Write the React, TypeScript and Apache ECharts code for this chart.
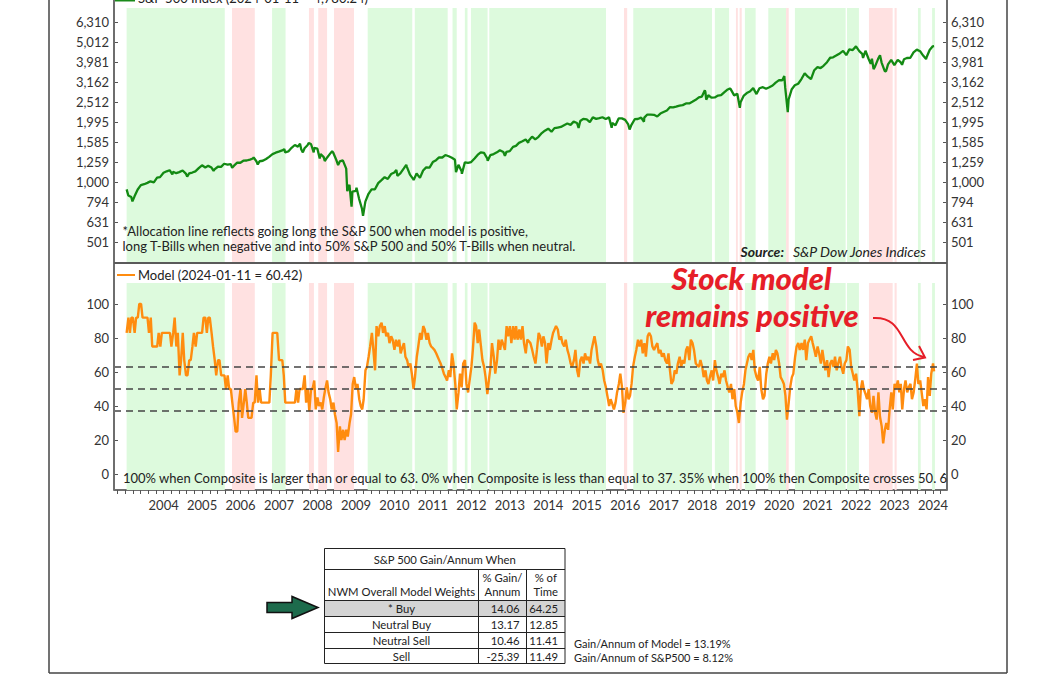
import React, { useEffect, useRef } from "react";
import * as echarts from "echarts";

// ---------------- DATA ----------------
// S&P 500 index level (date, value)
const spData: [string, number][] = [
  ["2003-01-15", 918], ["2003-01-31", 856], ["2003-02-28", 841], ["2003-03-11", 800], ["2003-03-31", 848], ["2003-04-30", 917], ["2003-05-30", 964], ["2003-06-30", 975], ["2003-07-31", 990], ["2003-08-29", 1008], ["2003-09-30", 996], ["2003-10-31", 1051], ["2003-11-28", 1058], ["2003-12-31", 1112],
  ["2004-01-30", 1131], ["2004-02-27", 1145], ["2004-03-24", 1091], ["2004-03-31", 1126], ["2004-04-30", 1107], ["2004-05-28", 1121], ["2004-06-30", 1141], ["2004-07-30", 1102], ["2004-08-12", 1064], ["2004-08-31", 1104], ["2004-09-30", 1115], ["2004-10-29", 1130], ["2004-11-30", 1174], ["2004-12-31", 1212],
  ["2005-01-31", 1181], ["2005-02-28", 1204], ["2005-03-31", 1181], ["2005-04-20", 1138], ["2005-04-29", 1157], ["2005-05-31", 1192], ["2005-06-30", 1191], ["2005-07-29", 1234], ["2005-08-31", 1220], ["2005-09-30", 1229], ["2005-10-13", 1177], ["2005-10-31", 1207], ["2005-11-30", 1249], ["2005-12-30", 1248],
  ["2006-01-31", 1280], ["2006-02-28", 1281], ["2006-03-31", 1295], ["2006-04-28", 1311], ["2006-05-05", 1326], ["2006-05-31", 1270], ["2006-06-13", 1223], ["2006-06-30", 1270], ["2006-07-31", 1277], ["2006-08-31", 1304], ["2006-09-29", 1336], ["2006-10-31", 1378], ["2006-11-30", 1401], ["2006-12-29", 1418],
  ["2007-01-31", 1438], ["2007-02-20", 1460], ["2007-02-28", 1407], ["2007-03-30", 1421], ["2007-04-30", 1482], ["2007-05-31", 1531], ["2007-06-29", 1503], ["2007-07-19", 1553], ["2007-07-31", 1455], ["2007-08-15", 1406], ["2007-08-31", 1474], ["2007-09-28", 1527], ["2007-10-09", 1565], ["2007-10-31", 1549], ["2007-11-26", 1407], ["2007-11-30", 1481], ["2007-12-31", 1468],
  ["2008-01-22", 1310], ["2008-01-31", 1379], ["2008-02-29", 1331], ["2008-03-10", 1273], ["2008-03-31", 1323], ["2008-04-30", 1386], ["2008-05-19", 1426], ["2008-05-30", 1400], ["2008-06-30", 1280], ["2008-07-15", 1215], ["2008-07-31", 1267], ["2008-08-29", 1283], ["2008-09-30", 1166], ["2008-10-10", 899], ["2008-10-31", 969], ["2008-11-20", 752], ["2008-11-28", 896], ["2008-12-31", 903],
  ["2009-01-06", 935], ["2009-01-30", 826], ["2009-02-27", 735], ["2009-03-09", 677], ["2009-03-31", 798], ["2009-04-30", 873], ["2009-05-29", 919], ["2009-06-30", 919], ["2009-07-31", 987], ["2009-08-31", 1021], ["2009-09-30", 1057], ["2009-10-30", 1036], ["2009-11-30", 1096], ["2009-12-31", 1115],
  ["2010-01-19", 1150], ["2010-01-29", 1074], ["2010-02-26", 1104], ["2010-03-31", 1169], ["2010-04-23", 1217], ["2010-04-30", 1187], ["2010-05-28", 1089], ["2010-06-30", 1031], ["2010-07-02", 1022], ["2010-07-30", 1102], ["2010-08-31", 1049], ["2010-09-30", 1141], ["2010-10-29", 1183], ["2010-11-30", 1181], ["2010-12-31", 1258],
  ["2011-01-31", 1286], ["2011-02-28", 1327], ["2011-03-31", 1326], ["2011-04-29", 1364], ["2011-05-31", 1345], ["2011-06-30", 1321], ["2011-07-29", 1292], ["2011-08-08", 1119], ["2011-08-31", 1219], ["2011-09-30", 1131], ["2011-10-03", 1099], ["2011-10-31", 1253], ["2011-11-30", 1247], ["2011-12-30", 1258],
  ["2012-01-31", 1312], ["2012-02-29", 1366], ["2012-03-30", 1408], ["2012-04-30", 1398], ["2012-05-31", 1310], ["2012-06-04", 1278], ["2012-06-29", 1362], ["2012-07-31", 1379], ["2012-08-31", 1407], ["2012-09-28", 1441], ["2012-10-31", 1412], ["2012-11-15", 1353], ["2012-11-30", 1416], ["2012-12-31", 1426],
  ["2013-01-31", 1498], ["2013-02-28", 1515], ["2013-03-28", 1569], ["2013-04-30", 1598], ["2013-05-31", 1631], ["2013-06-24", 1573], ["2013-06-28", 1606], ["2013-07-31", 1686], ["2013-08-30", 1633], ["2013-09-30", 1682], ["2013-10-31", 1757], ["2013-11-29", 1806], ["2013-12-31", 1848],
  ["2014-01-31", 1783], ["2014-02-28", 1859], ["2014-03-31", 1872], ["2014-04-30", 1884], ["2014-05-30", 1924], ["2014-06-30", 1960], ["2014-07-31", 1931], ["2014-08-29", 2003], ["2014-09-30", 1972], ["2014-10-15", 1862], ["2014-10-31", 2018], ["2014-11-28", 2068], ["2014-12-31", 2059],
  ["2015-01-30", 1995], ["2015-02-27", 2105], ["2015-03-31", 2068], ["2015-04-30", 2086], ["2015-05-29", 2107], ["2015-06-30", 2063], ["2015-07-31", 2104], ["2015-08-25", 1867], ["2015-08-31", 1972], ["2015-09-30", 1920], ["2015-10-30", 2079], ["2015-11-30", 2080], ["2015-12-31", 2044],
  ["2016-01-29", 1940], ["2016-02-11", 1829], ["2016-02-29", 1932], ["2016-03-31", 2060], ["2016-04-29", 2065], ["2016-05-31", 2097], ["2016-06-27", 2001], ["2016-06-30", 2099], ["2016-07-29", 2174], ["2016-08-31", 2171], ["2016-09-30", 2168], ["2016-10-31", 2126], ["2016-11-30", 2199], ["2016-12-30", 2239],
  ["2017-01-31", 2279], ["2017-02-28", 2364], ["2017-03-31", 2363], ["2017-04-28", 2384], ["2017-05-31", 2412], ["2017-06-30", 2423], ["2017-07-31", 2470], ["2017-08-31", 2472], ["2017-09-29", 2519], ["2017-10-31", 2575], ["2017-11-30", 2648], ["2017-12-29", 2674],
  ["2018-01-26", 2873], ["2018-01-31", 2824], ["2018-02-08", 2581], ["2018-02-28", 2714], ["2018-03-29", 2641], ["2018-04-30", 2648], ["2018-05-31", 2705], ["2018-06-29", 2718], ["2018-07-31", 2816], ["2018-08-31", 2902], ["2018-09-20", 2930], ["2018-09-28", 2914], ["2018-10-31", 2712], ["2018-11-30", 2760], ["2018-12-24", 2351], ["2018-12-31", 2507],
  ["2019-01-31", 2704], ["2019-02-28", 2784], ["2019-03-29", 2834], ["2019-04-30", 2946], ["2019-05-31", 2752], ["2019-06-28", 2942], ["2019-07-31", 2980], ["2019-08-30", 2926], ["2019-09-30", 2977], ["2019-10-31", 3038], ["2019-11-29", 3141], ["2019-12-31", 3231],
  ["2020-01-31", 3226], ["2020-02-19", 3386], ["2020-02-28", 2954], ["2020-03-23", 2237], ["2020-03-31", 2585], ["2020-04-30", 2912], ["2020-05-29", 3044], ["2020-06-30", 3100], ["2020-07-31", 3271], ["2020-08-31", 3500], ["2020-09-30", 3363], ["2020-10-30", 3270], ["2020-11-30", 3622], ["2020-12-31", 3756],
  ["2021-01-29", 3714], ["2021-02-26", 3811], ["2021-03-31", 3973], ["2021-04-30", 4181], ["2021-05-28", 4204], ["2021-06-30", 4298], ["2021-07-30", 4395], ["2021-08-31", 4523], ["2021-09-30", 4308], ["2021-10-29", 4605], ["2021-11-30", 4567], ["2021-12-31", 4766],
  ["2022-01-03", 4796], ["2022-01-31", 4516], ["2022-02-28", 4374], ["2022-03-08", 4171], ["2022-03-31", 4530], ["2022-04-29", 4132], ["2022-05-20", 3901], ["2022-05-31", 4132], ["2022-06-16", 3667], ["2022-06-30", 3785], ["2022-07-29", 4130], ["2022-08-16", 4305], ["2022-08-31", 3955], ["2022-09-30", 3586], ["2022-10-12", 3577], ["2022-10-31", 3872], ["2022-11-30", 4080], ["2022-12-30", 3840],
  ["2023-01-31", 4077], ["2023-02-28", 3970], ["2023-03-13", 3855], ["2023-03-31", 4109], ["2023-04-28", 4169], ["2023-05-31", 4180], ["2023-06-30", 4450], ["2023-07-31", 4589], ["2023-08-31", 4508], ["2023-09-29", 4288], ["2023-10-27", 4117], ["2023-10-31", 4194], ["2023-11-30", 4568], ["2023-12-29", 4770],
  ["2024-01-11", 4780.24],
];

// Model reading, semi-monthly from 2003-01-15 to 2024-01-11
const modelStart = "2003-01-15";
const modelLastDate = "2024-01-11";
const modelValues: number[] = [
  83, 92, 83, 92, 92, 83, 92, 92, 100, 100, 92, 92, 92, 92, 83, 92, 75, 75, 75, 75,
  83, 75, 83, 83, 83, 83, 83, 83, 75, 83, 92, 75, 83, 58, 67, 83, 67, 58, 58, 67,
  67, 75, 83, 75, 83, 83, 83, 83, 92, 92, 83, 92, 92, 83, 75, 67, 58, 67, 67, 58,
  58, 58, 50, 58, 50, 50, 42, 33, 25, 25, 42, 50, 33, 42, 50, 42, 33, 33, 33, 42,
  42, 58, 42, 50, 42, 42, 42, 42, 42, 42, 58, 83, 83, 83, 83, 67, 67, 67, 58, 42,
  42, 42, 42, 42, 42, 42, 50, 42, 50, 50, 50, 58, 42, 50, 37, 50, 50, 55, 38, 45,
  40, 42, 38, 45, 50, 55,
  48, 44, 38, 42, 35, 30, 13, 28, 20, 26, 20, 26, 22, 30, 35, 53, 57, 50, 53, 44,
  40, 38, 44, 61, 63, 69, 75, 83, 73, 61, 87, 81, 87, 89, 83, 87, 81, 83, 77, 81,
  79, 73, 79, 75, 79, 71, 74, 77, 69, 67, 63, 65, 59, 50, 57, 69, 75, 83, 79, 87,
  85, 79, 83, 77, 75, 74, 73, 71, 69, 67, 65, 62, 59, 57, 55, 61, 57, 71, 65, 53,
  38, 48, 59, 51, 65, 67, 53, 48, 55, 63, 73, 89, 87, 77, 85, 75, 67, 63, 57, 47,
  55, 63, 77, 69, 59, 67, 79, 73, 79, 76, 73, 87, 81, 87, 77, 87, 79, 87, 79, 85,
  79, 87, 77, 71, 79, 78, 77, 73, 69, 65, 73,
  83, 81, 75, 81, 77, 65, 77, 73, 79, 83, 85, 87, 85, 79, 81, 77, 75, 79, 73, 70,
  65, 63, 67, 73, 61, 57, 67, 69, 65, 71, 67, 69, 65, 73, 77, 81, 75, 67, 63, 65,
  61, 55, 51, 46, 40, 44, 41, 38, 42, 48, 53, 59, 51, 36, 42, 51, 44, 46, 53, 63,
  69, 73, 79, 75, 79, 71, 77, 69, 81, 83, 81, 75, 73, 75, 77, 71, 73, 69, 71, 67,
  65, 71, 61, 53, 55, 61, 59, 65, 69, 63, 67, 65, 73, 75, 67, 79, 77, 73, 65, 64,
  63, 67, 63, 57, 61, 55, 53, 57, 61, 55, 67, 61, 57, 53, 59, 57, 61, 55, 51, 48,
  53, 44, 50, 40, 36, 30, 42, 48, 53, 61, 65, 69,
  71, 67, 73, 61, 57, 55, 63, 50, 44, 46, 59, 65, 69, 65, 71, 67, 73, 71, 65, 57,
  55, 53, 46, 32, 42, 51, 57, 59, 69, 75, 77, 73, 77, 73, 79, 67, 77, 79, 81, 77,
  73, 69, 75, 71, 65, 73, 67, 61, 67, 57, 65, 67, 63, 69, 61, 65, 69, 63, 59, 65,
  67, 75, 73, 63, 59, 55, 59, 50, 34, 50, 55, 50, 47, 44, 50, 40, 36, 46, 36, 32,
  48, 34, 28, 18, 26, 30, 26, 38, 48, 38, 53, 50, 55, 48, 53, 38, 50, 55, 48, 51,
  53, 44, 48, 55, 65, 53, 55, 48, 40, 44, 38, 57, 46, 59, 65, 60.42,
];

// Signal periods
const buyBands: [string, string][] = [
  ["2003-01-15", "2005-08-04"], ["2006-10-27", "2007-03-04"], ["2009-04-22", "2010-06-19"],
  ["2010-07-13", "2011-05-21"], ["2011-07-06", "2011-08-15"], ["2011-10-31", "2011-11-25"],
  ["2011-12-28", "2012-06-03"], ["2012-06-19", "2015-07-02"], ["2016-03-17", "2018-04-04"],
  ["2018-05-01", "2018-09-13"], ["2019-02-10", "2019-05-23"], ["2019-09-20", "2020-03-07"],
  ["2020-05-30", "2021-09-24"], ["2021-10-07", "2022-01-28"], ["2023-08-11", "2023-09-06"],
  ["2023-12-23", "2024-01-19"],
];
const sellBands: [string, string][] = [
  ["2005-10-12", "2006-05-16"], ["2007-10-12", "2007-11-28"], ["2008-01-08", "2008-04-01"],
  ["2008-06-06", "2008-12-13"], ["2015-12-20", "2016-01-19"], ["2018-11-17", "2018-12-05"],
  ["2018-12-22", "2019-01-11"], ["2020-03-07", "2020-04-01"], ["2022-05-03", "2022-12-14"],
  ["2023-01-01", "2023-01-21"],
];

const yearLabels = [2004, 2005, 2006, 2007, 2008, 2009, 2010, 2011, 2012, 2013, 2014, 2015, 2016, 2017, 2018, 2019, 2020, 2021, 2022, 2023, 2024];
const spLogTicks = [2.7, 2.8, 2.9, 3.0, 3.1, 3.2, 3.3, 3.4, 3.5, 3.6, 3.7, 3.8];
const modelTicks = [0, 20, 40, 60, 80, 100];
const thresholds = [63, 50, 37];

const tableRows = ["* Buy", "Neutral Buy", "Neutral Sell", "Sell"];
const gainPerAnnum = ["14.06", "13.17", "10.46", "-25.39"];
const pctOfTime = ["64.25", "12.85", "11.41", "11.49"];
const modelGain = "13.19%";
const spGain = "8.12%";

// ---------------- HELPERS ----------------
const toYear = (s: string) => {
  const [y, m, d] = s.split("-").map(Number);
  const t0 = Date.UTC(y, 0, 1);
  const t1 = Date.UTC(y + 1, 0, 1);
  return y + (Date.UTC(y, m - 1, d) - t0) / (t1 - t0);
};

const modelDates = modelValues.map((_, k) => {
  if (k === modelValues.length - 1) return modelLastDate;
  const [sy, sm] = modelStart.split("-").map(Number);
  const mi = k % 2 === 0 ? k / 2 : (k + 1) / 2;
  const day = k % 2 === 0 ? 15 : 1;
  const tot = (sm - 1) + mi;
  const y = sy + Math.floor(tot / 12);
  const m = (tot % 12) + 1;
  return `${y}-${String(m).padStart(2, "0")}-${String(day).padStart(2, "0")}`;
});

const X_MIN = 2002.71;
const X_MAX = 2024.363;
const FONT = "Lato";
const GREEN_BAND = "#ddfadd";
const RED_BAND = "#ffe1e1";

const xTicks: number[] = [];
for (let v = 2002.8; v < X_MAX; v += 0.2) xTicks.push(Math.round(v * 10) / 10);

const bandData = () => [
  ...buyBands.map(([s, e]) => [{ xAxis: toYear(s), itemStyle: { color: GREEN_BAND } }, { xAxis: toYear(e) }]),
  ...sellBands.map(([s, e]) => [{ xAxis: toYear(s), itemStyle: { color: RED_BAND } }, { xAxis: toYear(e) }]),
];

const gLine = (x1: number, y1: number, x2: number, y2: number, stroke: string, lineWidth: number) => ({
  type: "line", z: 100, silent: true, shape: { x1, y1, x2, y2 }, style: { stroke, lineWidth },
});
const gText = (text: string, x: number, y: number, extra: any = {}) => ({
  type: "text", z: 100, silent: true, x, y,
  style: { text, fill: "#222", fontFamily: FONT, fontSize: 13, align: "left", verticalAlign: "middle", ...extra },
});

export default function App() {
  const ref = useRef<HTMLDivElement>(null);
  useEffect(() => {
    document.body.style.margin = "0";
    if (!ref.current) return;
    const chart = echarts.init(ref.current, undefined, { renderer: "svg" });

    const spSeries = spData.map(([d, v]) => [toYear(d), Math.log10(v)]);
    const modelSeries = modelValues.map((v, i) => [toYear(modelDates[i]), v]);

    const yAxisBase = (gridIndex: number, position: string, min: number, max: number, ticks: number[], fmt: (v: number) => string) => ({
      type: "value", gridIndex, position, min, max,
      axisLine: { show: false },
      splitLine: { show: false },
      axisTick: { show: true, inside: true, length: 4, customValues: ticks, lineStyle: { color: "#555", width: 1 } },
      axisLabel: { customValues: ticks, formatter: fmt, fontFamily: FONT, fontSize: 13, color: "#333", margin: position === "left" ? 5 : 4 },
    });
    const spFmt = (v: number) => Math.round(Math.pow(10, v)).toLocaleString("en-US");
    const mFmt = (v: number) => String(Math.round(v));

    // Table geometry
    const L = 324.5, R = 565, c1 = 478.5, c2 = 526.5;
    const rowY = [548.5, 569.5, 600.5, 616.5, 632.5, 648.5, 663.5];
    const tableEls: any[] = [
      { type: "rect", z: 99, silent: true, shape: { x: L, y: rowY[2], width: R - L, height: rowY[3] - rowY[2] }, style: { fill: "#d4d4d4" } },
      { type: "rect", z: 100, silent: true, shape: { x: L, y: rowY[0], width: R - L, height: rowY[6] - rowY[0] }, style: { fill: "none", stroke: "#222", lineWidth: 1 } },
    ];
    for (let i = 1; i < 6; i++) tableEls.push(gLine(L, rowY[i], R, rowY[i], "#222", 1));
    tableEls.push(gLine(c1, rowY[1], c1, rowY[6], "#222", 1));
    tableEls.push(gLine(c2, rowY[1], c2, rowY[6], "#222", 1));
    const TS = 11.3;
    const tf = { fontSize: TS, align: "center" };
    tableEls.push(gText("S&P 500 Gain/Annum When", (L + R) / 2, (rowY[0] + rowY[1]) / 2, tf));
    tableEls.push(gText("NWM Overall Model Weights", (L + c1) / 2, 591, tf));
    tableEls.push(gText("% Gain/", (c1 + c2) / 2, 577, tf));
    tableEls.push(gText("Annum", (c1 + c2) / 2, 591, tf));
    tableEls.push(gText("% of", (c2 + R) / 2, 577, tf));
    tableEls.push(gText("Time", (c2 + R) / 2, 591, tf));
    tableRows.forEach((name, i) => {
      const cy = (rowY[2 + i] + rowY[3 + i]) / 2;
      tableEls.push(gText(name, (L + c1) / 2, cy, tf));
      tableEls.push(gText(gainPerAnnum[i], c2 - 7, cy, { fontSize: TS, align: "right" }));
      tableEls.push(gText(pctOfTime[i], R - 7, cy, { fontSize: TS, align: "right" }));
    });
    tableEls.push(gText(`Gain/Annum of Model = ${modelGain}`, 574, 643.5, { fontSize: 11 }));
    tableEls.push(gText(`Gain/Annum of S&P500 = ${spGain}`, 574, 657.5, { fontSize: 11 }));
    tableEls.push({
      type: "polygon", z: 100, silent: true,
      shape: { points: [[267, 602.5], [292, 602.5], [292, 596.5], [318, 607.5], [292, 618.5], [292, 612.5], [267, 612.5]] },
      style: { fill: "#1d6b4c", stroke: "#111", lineWidth: 1.5 },
    });

    const red = "#e61e28";
    const annot = { fontSize: 31, fontWeight: 900, fontStyle: "italic", fill: red, align: "center" };
    const graphics: any[] = [
      // outer frame
      gLine(49, 0, 49, 673, "#444", 1.5),
      gLine(1007, 0, 1007, 673, "#444", 1.5),
      gLine(49, 673, 1007, 673, "#444", 1.5),
      // axis lines
      gLine(114, 0, 114, 490, "#6e6e6e", 2),
      gLine(947, 0, 947, 490, "#6e6e6e", 2),
      gLine(114, 263, 947, 263, "#5a5a5a", 2),
      // legends
      gLine(115, 0.5, 135, 0.5, "#1a8a1a", 2),
      gText("S&P 500 Index (2024-01-11 = 4,780.24)", 138, -2),
      gLine(117, 275, 135, 275, "#ff8c0f", 2),
      gText("Model (2024-01-11 = 60.42)", 138, 275),
      // notes
      gText("*Allocation line reflects going long the S&P 500 when model is positive,", 122.5, 231),
      gText("long T-Bills when negative and into 50% S&P 500 and 50% T-Bills when neutral.", 122.5, 246),
      gText("Source:", 740.5, 251.5, { fontSize: 14, fontStyle: "italic", fontWeight: "bold" }),
      gText("S&P Dow Jones Indices", 793, 251.5, { fontSize: 14, fontStyle: "italic" }),
      gText("100% when Composite is larger than or equal to 63. 0% when Composite is less than equal to 37. 35% when 100% then Composite crosses 50. 6", 123, 478),
      // annotation
      gText("Stock model", 751.5, 278, annot),
      gText("remains positive", 752, 315, annot),
      {
        type: "bezierCurve", z: 100, silent: true,
        shape: { x1: 873, y1: 318, cpx1: 906, cpy1: 316, cpx2: 898, cpy2: 352, x2: 924, y2: 357 },
        style: { stroke: red, lineWidth: 2, fill: "none" },
      },
      {
        type: "polyline", z: 100, silent: true,
        shape: { points: [[919, 346], [925, 357.5], [913, 360]] },
        style: { stroke: red, lineWidth: 2, fill: "none" },
      },
      ...tableEls,
    ];

    chart.setOption({
      animation: false,
      backgroundColor: "#fff",
      grid: [
        { left: 114, top: 8, width: 833, height: 254 },
        { left: 114, top: 283, width: 833, height: 207 },
      ],
      xAxis: [
        { type: "value", gridIndex: 0, min: X_MIN, max: X_MAX, show: false },
        {
          type: "value", gridIndex: 1, min: X_MIN, max: X_MAX,
          splitLine: { show: false },
          axisLine: { show: true, onZero: false, lineStyle: { color: "#6e6e6e", width: 2 } },
          axisTick: { show: true, length: 4, customValues: xTicks, lineStyle: { color: "#555", width: 1 } },
          axisLabel: { customValues: yearLabels, formatter: (v: number) => String(Math.round(v)), fontFamily: FONT, fontSize: 13, color: "#333", margin: 8 },
        },
      ],
      yAxis: [
        yAxisBase(0, "left", 2.6, 3.87, spLogTicks, spFmt),
        yAxisBase(0, "right", 2.6, 3.87, spLogTicks, spFmt),
        yAxisBase(1, "left", -9.4, 112.35, modelTicks, mFmt),
        yAxisBase(1, "right", -9.4, 112.35, modelTicks, mFmt),
      ],
      series: [
        {
          type: "line", xAxisIndex: 0, yAxisIndex: 0, data: [], z: 1, silent: true,
          markArea: { silent: true, data: bandData() },
        },
        {
          type: "line", xAxisIndex: 0, yAxisIndex: 0, data: spSeries, z: 3, showSymbol: false,
          lineStyle: { color: "#138a13", width: 2.3 }, itemStyle: { color: "#138a13" },
        },
        {
          type: "line", xAxisIndex: 1, yAxisIndex: 2, data: [], z: 1, silent: true,
          markArea: { silent: true, data: bandData() },
        },
        {
          type: "line", xAxisIndex: 1, yAxisIndex: 2, data: modelSeries, z: 3, showSymbol: false,
          lineStyle: { color: "#ff8c0f", width: 2.4 }, itemStyle: { color: "#ff8c0f" },
          markLine: {
            silent: true, symbol: "none", label: { show: false },
            lineStyle: { color: "#444", width: 1.5, type: [7, 5] },
            data: thresholds.map((t) => ({ yAxis: t })),
          },
        },
      ],
      graphic: { elements: graphics },
    });
    return () => chart.dispose();
  }, []);
  return <div ref={ref} style={{ width: 1056, height: 675 }} />;
}
